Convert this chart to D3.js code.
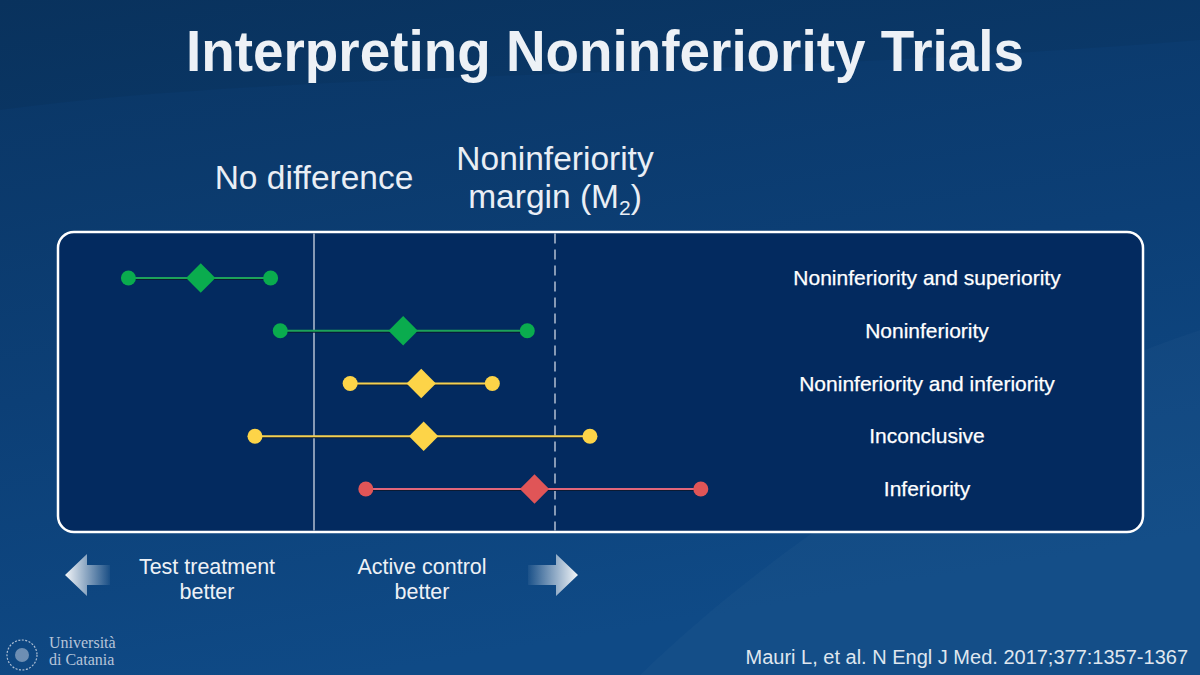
<!DOCTYPE html>
<html>
<head>
<meta charset="utf-8">
<script src="https://cdn.jsdelivr.net/npm/d3@7/dist/d3.min.js"></script>
<style>
  html, body { margin: 0; padding: 0; background: #0b3a6c; }
  svg { display: block; font-family: "Liberation Sans", Arial, sans-serif; }
</style>
</head>
<body>
<div id="grafico"></div>
<script>
// Datos de la figura (diferencia: 0 = sin diferencia, 1 = margen M2)
var resultados = ["Noninferiority and superiority", "Noninferiority", "Noninferiority and inferiority", "Inconclusive", "Inferiority"];
var limiteInferior = [-0.77, -0.14, 0.15, -0.245, 0.215];
var estimacion = [-0.47, 0.37, 0.445, 0.455, 0.915];
var limiteSuperior = [-0.18, 0.885, 0.74, 1.145, 1.605];
var colores = ["#0aac4e", "#0aac4e", "#fdd448", "#fdd448", "#e05557"];
var coloresLinea = ["#1da25a", "#1da25a", "#f5d050", "#f5d050", "#e2667a"];
var referencias = [0, 1];

var width = 1200;
var height = 675;

var svg = d3.select("#grafico")
  .append("svg")
  .attr("width", width)
  .attr("height", height);

var defs = svg.append("defs");

// Fondo degradado azul
var fondo = defs.append("linearGradient")
  .attr("id", "fondo")
  .attr("x1", "0").attr("y1", "0").attr("x2", "0.3").attr("y2", "1");
fondo.append("stop").attr("offset", "0").attr("stop-color", "#0a3563");
fondo.append("stop").attr("offset", "0.55").attr("stop-color", "#0c3f76");
fondo.append("stop").attr("offset", "1").attr("stop-color", "#0f4a86");

var flechaIzq = defs.append("linearGradient").attr("id", "flechaIzq");
flechaIzq.append("stop").attr("offset", "0").attr("stop-color", "#ffffff").attr("stop-opacity", 0.95);
flechaIzq.append("stop").attr("offset", "1").attr("stop-color", "#ffffff").attr("stop-opacity", 0.05);

var flechaDer = defs.append("linearGradient").attr("id", "flechaDer");
flechaDer.append("stop").attr("offset", "0").attr("stop-color", "#ffffff").attr("stop-opacity", 0.05);
flechaDer.append("stop").attr("offset", "1").attr("stop-color", "#ffffff").attr("stop-opacity", 0.95);

svg.append("rect")
  .attr("width", width)
  .attr("height", height)
  .attr("fill", "url(#fondo)");

// Vetas claras del fondo
svg.append("path")
  .attr("d", "M640,675 C780,540 990,400 1200,330 L1200,675 Z")
  .attr("fill", "#ffffff")
  .attr("opacity", 0.025);
svg.append("path")
  .attr("d", "M0,110 C300,70 700,80 1200,40 L1200,0 L0,0 Z")
  .attr("fill", "#000000")
  .attr("opacity", 0.05);

// Título
svg.append("text")
  .attr("x", 605)
  .attr("y", 71)
  .attr("text-anchor", "middle")
  .attr("font-size", 57)
  .attr("font-weight", "bold")
  .attr("fill", "#edf1f6")
  .attr("textLength", 838)
  .attr("lengthAdjust", "spacingAndGlyphs")
  .text("Interpreting Noninferiority Trials");

// Escalas
var x = d3.scaleLinear().domain([0, 1]).range([314, 555]);
var y = d3.scalePoint().domain(resultados).range([278, 489]);

// Caja del gráfico
var caja = { x: 58, y: 232, w: 1085, h: 300 };
svg.append("rect")
  .attr("x", caja.x)
  .attr("y", caja.y)
  .attr("width", caja.w)
  .attr("height", caja.h)
  .attr("rx", 16)
  .attr("fill", "#032a5f")
  .attr("stroke", "#ffffff")
  .attr("stroke-width", 2.5);

// Líneas de referencia
svg.selectAll(".ref")
  .data(referencias)
  .enter()
  .append("line")
  .attr("class", "ref")
  .attr("x1", function(d) { return x(d); })
  .attr("x2", function(d) { return x(d); })
  .attr("y1", caja.y + 1.5)
  .attr("y2", caja.y + caja.h - 1.5)
  .attr("stroke", "#a9b6cb")
  .attr("stroke-width", 1.6)
  .attr("stroke-dasharray", function(d) { return d === 0 ? null : "10,6"; });

// Etiquetas superiores
svg.append("text")
  .attr("x", x(0))
  .attr("y", 189)
  .attr("text-anchor", "middle")
  .attr("font-size", 33.5)
  .attr("fill", "#e9eef5")
  .text("No difference");

var margen = svg.append("text")
  .attr("x", x(1))
  .attr("text-anchor", "middle")
  .attr("font-size", 33.5)
  .attr("fill", "#e9eef5");
margen.append("tspan").attr("x", x(1)).attr("y", 170).text("Noninferiority");
var linea2 = margen.append("tspan").attr("x", x(1)).attr("y", 208);
linea2.text("margin (M");
margen.append("tspan").attr("font-size", 21).attr("dy", 7).text("2");
margen.append("tspan").attr("dy", -7).text(")");

// Filas de intervalos
var filas = svg.selectAll(".fila")
  .data(resultados)
  .enter()
  .append("g")
  .attr("class", "fila");

filas.append("line")
  .attr("x1", function(d, i) { return x(limiteInferior[i]); })
  .attr("x2", function(d, i) { return x(limiteSuperior[i]); })
  .attr("y1", function(d) { return y(d) + 1; })
  .attr("y2", function(d) { return y(d) + 1; })
  .attr("stroke", "#0b1a33")
  .attr("stroke-width", 2);

filas.append("line")
  .attr("x1", function(d, i) { return x(limiteInferior[i]); })
  .attr("x2", function(d, i) { return x(limiteSuperior[i]); })
  .attr("y1", function(d) { return y(d); })
  .attr("y2", function(d) { return y(d); })
  .attr("stroke", function(d, i) { return coloresLinea[i]; })
  .attr("stroke-width", 2);

filas.append("circle")
  .attr("cx", function(d, i) { return x(limiteInferior[i]); })
  .attr("cy", function(d) { return y(d); })
  .attr("r", 7.5)
  .attr("fill", function(d, i) { return colores[i]; });

filas.append("circle")
  .attr("cx", function(d, i) { return x(limiteSuperior[i]); })
  .attr("cy", function(d) { return y(d); })
  .attr("r", 7.5)
  .attr("fill", function(d, i) { return colores[i]; });

filas.append("path")
  .attr("d", d3.symbol().type(d3.symbolSquare).size(430))
  .attr("transform", function(d, i) { return "translate(" + x(estimacion[i]) + "," + y(d) + ") rotate(45)"; })
  .attr("fill", function(d, i) { return colores[i]; });

filas.append("text")
  .attr("x", 927)
  .attr("y", function(d) { return y(d) + 7; })
  .attr("text-anchor", "middle")
  .attr("font-size", 21)
  .attr("fill", "#ffffff")
  .attr("stroke", "#ffffff")
  .attr("stroke-width", 0.25)
  .text(function(d) { return d; });

// Flechas inferiores
svg.append("path")
  .attr("d", "M65,575 L87,554 L87,565 L110,565 L110,585 L87,585 L87,596 Z")
  .attr("fill", "url(#flechaIzq)");
svg.append("path")
  .attr("d", "M578,575 L556,554 L556,565 L528,565 L528,585 L556,585 L556,596 Z")
  .attr("fill", "url(#flechaDer)");

var abajo = [
  { t1: "Test treatment", t2: "better", cx: 207 },
  { t1: "Active control", t2: "better", cx: 422 }
];
abajo.forEach(function(a) {
  var t = svg.append("text")
    .attr("text-anchor", "middle")
    .attr("font-size", 21.5)
    .attr("fill", "#edf1f6");
  t.append("tspan").attr("x", a.cx).attr("y", 574).text(a.t1);
  t.append("tspan").attr("x", a.cx).attr("y", 599).text(a.t2);
});

// Logo de la universidad
var logo = svg.append("g").attr("opacity", 0.85);
logo.append("circle").attr("cx", 22).attr("cy", 655).attr("r", 15)
  .attr("fill", "none").attr("stroke", "#c9d3e2").attr("stroke-width", 1.2).attr("stroke-dasharray", "2,1.5");
logo.append("circle").attr("cx", 22).attr("cy", 655).attr("r", 7)
  .attr("fill", "#c9d3e2").attr("opacity", 0.6);
logo.append("text").attr("x", 49).attr("y", 648).attr("font-size", 16)
  .attr("font-family", "'Liberation Serif', 'DejaVu Serif', serif").attr("fill", "#d3dbe7").text("Università");
logo.append("text").attr("x", 49).attr("y", 665).attr("font-size", 16)
  .attr("font-family", "'Liberation Serif', 'DejaVu Serif', serif").attr("fill", "#d3dbe7").text("di Catania");

// Cita
svg.append("text")
  .attr("x", 1188)
  .attr("y", 664)
  .attr("text-anchor", "end")
  .attr("font-size", 20)
  .attr("fill", "#dfe6ef")
  .text("Mauri L, et al. N Engl J Med. 2017;377:1357-1367");
</script>
</body>
</html>
